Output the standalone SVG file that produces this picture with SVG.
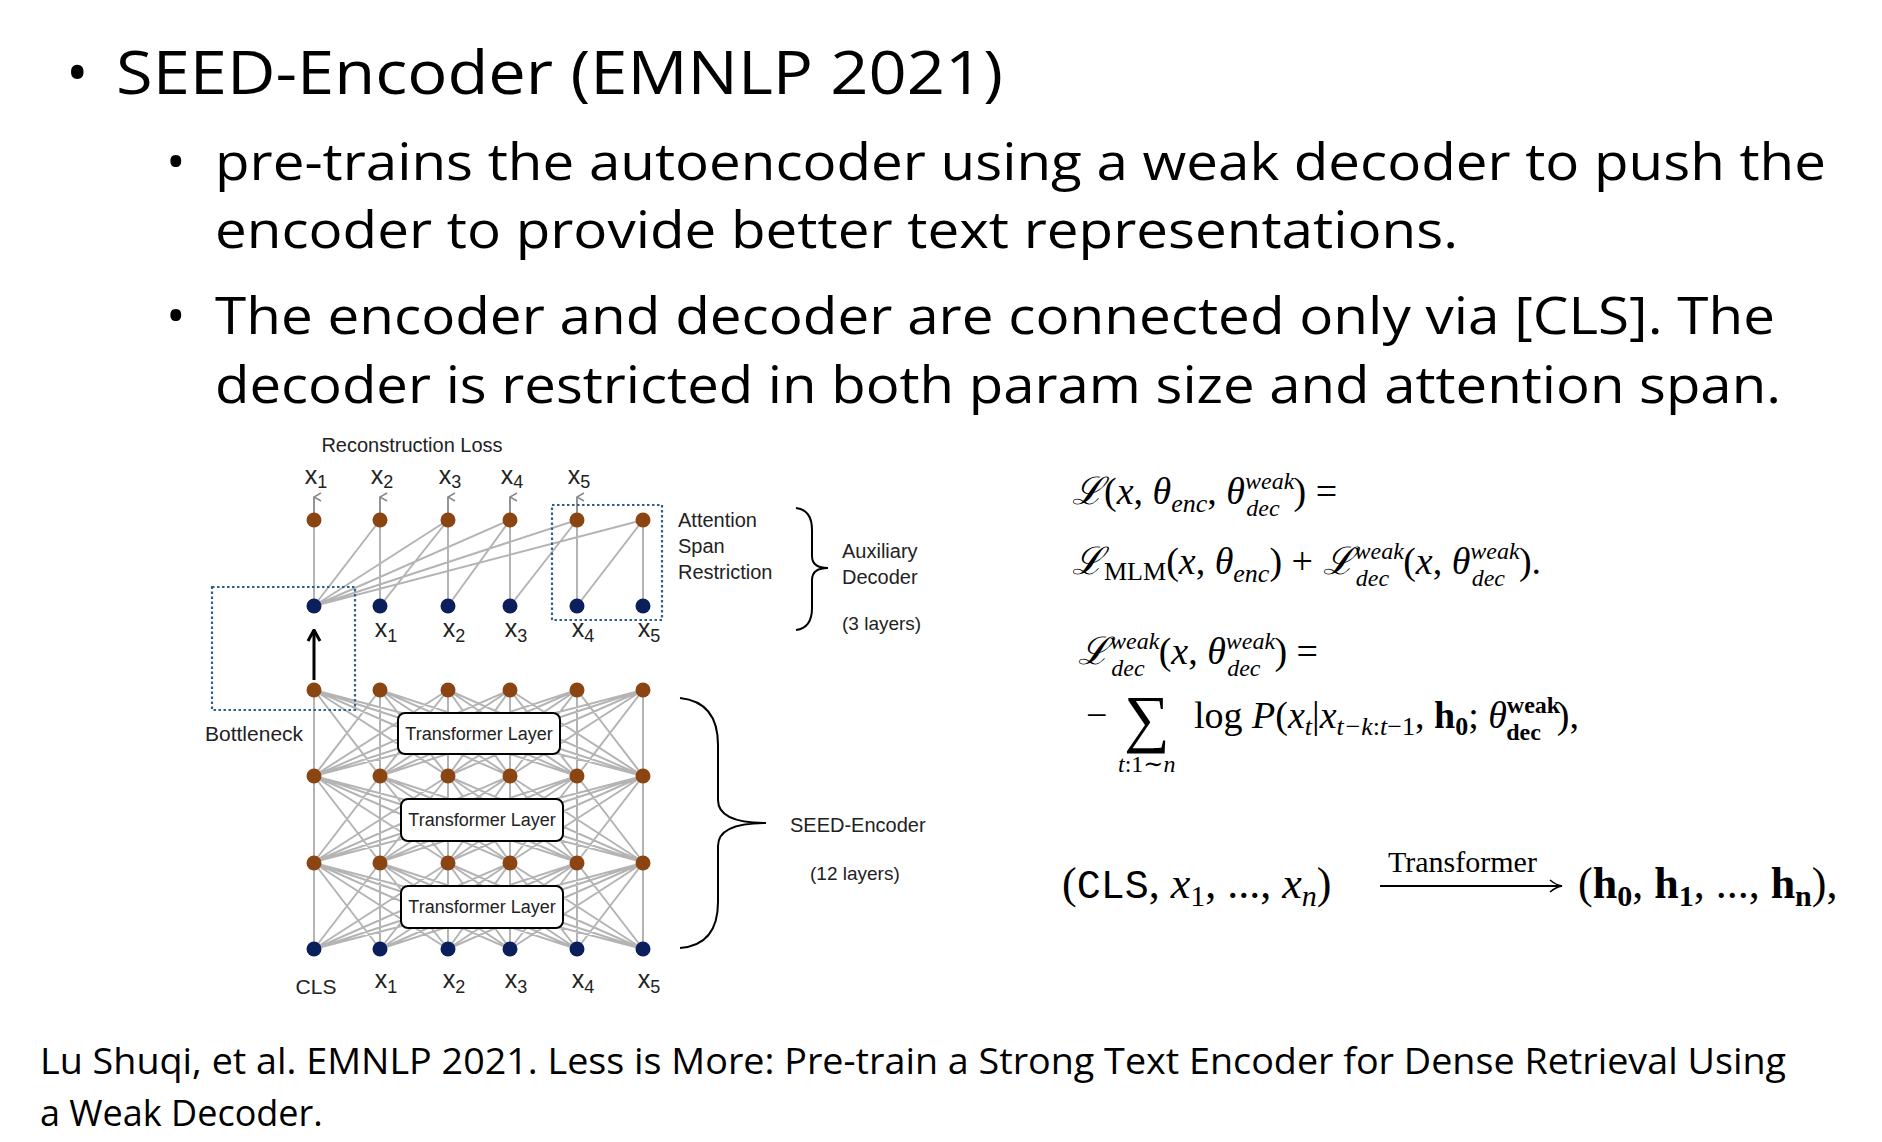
<svg xmlns="http://www.w3.org/2000/svg" width="1882" height="1142" viewBox="0 0 1882 1142">
<style>
.h{font-family:"Open Sans","Liberation Sans",sans-serif;fill:#000}
.d{font-family:"Liberation Sans",Arial,sans-serif;fill:#222}
.m{font-family:"Liberation Serif","DejaVu Serif",serif;fill:#000}
.i{font-style:italic}
.e{stroke:#b4b4b4;stroke-width:2;fill:none}
.o{fill:#8a4513}
.b{fill:#0b1f5c}
.dot{fill:none;stroke:#2f5f8a;stroke-width:2.2;stroke-dasharray:2.5 2.5}
.tl{fill:#fff;stroke:#000;stroke-width:2}
.br{fill:none;stroke:#000;stroke-width:2}
</style>
<defs>
<marker id="ga" markerWidth="10" markerHeight="10" refX="5" refY="1" orient="auto-start-reverse" markerUnits="userSpaceOnUse"><path d="M1,8 L5,1 L9,8" fill="none" stroke="#888" stroke-width="1.5"/></marker>
<marker id="ka" markerWidth="16" markerHeight="16" refX="8" refY="1" markerUnits="userSpaceOnUse"><path d="M2,12 L8,1 L14,12" fill="none" stroke="#000" stroke-width="3"/></marker>
<marker id="ma" markerWidth="16" markerHeight="14" refX="14" refY="7" orient="auto" markerUnits="userSpaceOnUse"><path d="M2,1 Q8,6 14,7 Q8,8 2,13" fill="none" stroke="#000" stroke-width="1.6"/></marker>
</defs>
<rect width="1882" height="1142" fill="#fff"/>

<g id="text-bullets">
<text class="h" x="66" y="94" font-size="60">•</text>
<text class="h" x="116" y="94" font-size="60" textLength="887" lengthAdjust="spacingAndGlyphs">SEED-Encoder (EMNLP 2021)</text>
<text class="h" x="166" y="180" font-size="52">•</text>
<text class="h" x="215" y="180" font-size="52" textLength="1611" lengthAdjust="spacingAndGlyphs">pre-trains the autoencoder using a weak decoder to push the</text>
<text class="h" x="215" y="248" font-size="52" textLength="1243" lengthAdjust="spacingAndGlyphs">encoder to provide better text representations.</text>
<text class="h" x="166" y="334" font-size="52">•</text>
<text class="h" x="215" y="334" font-size="52" textLength="1560" lengthAdjust="spacingAndGlyphs">The encoder and decoder are connected only via [CLS]. The</text>
<text class="h" x="215" y="403" font-size="52" textLength="1566" lengthAdjust="spacingAndGlyphs">decoder is restricted in both param size and attention span.</text>
<text class="h" x="40" y="1074" font-size="36" textLength="1746" lengthAdjust="spacingAndGlyphs">Lu Shuqi, et al. EMNLP 2021. Less is More: Pre-train a Strong Text Encoder for Dense Retrieval Using</text>
<text class="h" x="40" y="1126" font-size="36">a Weak Decoder.</text>
</g>

<g id="connectors">
<g class="e">
<path d="M314,949L314,863M314,949L380,863M314,949L448,863M314,949L510,863M314,949L577,863M314,949L643,863
M380,949L314,863M380,949L380,863M380,949L448,863M380,949L510,863M380,949L577,863M380,949L643,863
M448,949L314,863M448,949L380,863M448,949L448,863M448,949L510,863M448,949L577,863M448,949L643,863
M510,949L314,863M510,949L380,863M510,949L448,863M510,949L510,863M510,949L577,863M510,949L643,863
M577,949L314,863M577,949L380,863M577,949L448,863M577,949L510,863M577,949L577,863M577,949L643,863
M643,949L314,863M643,949L380,863M643,949L448,863M643,949L510,863M643,949L577,863M643,949L643,863"/>
<path transform="translate(0,-87)" d="M314,949L314,863M314,949L380,863M314,949L448,863M314,949L510,863M314,949L577,863M314,949L643,863
M380,949L314,863M380,949L380,863M380,949L448,863M380,949L510,863M380,949L577,863M380,949L643,863
M448,949L314,863M448,949L380,863M448,949L448,863M448,949L510,863M448,949L577,863M448,949L643,863
M510,949L314,863M510,949L380,863M510,949L448,863M510,949L510,863M510,949L577,863M510,949L643,863
M577,949L314,863M577,949L380,863M577,949L448,863M577,949L510,863M577,949L577,863M577,949L643,863
M643,949L314,863M643,949L380,863M643,949L448,863M643,949L510,863M643,949L577,863M643,949L643,863"/>
<path transform="translate(0,-173)" d="M314,949L314,863M314,949L380,863M314,949L448,863M314,949L510,863M314,949L577,863M314,949L643,863
M380,949L314,863M380,949L380,863M380,949L448,863M380,949L510,863M380,949L577,863M380,949L643,863
M448,949L314,863M448,949L380,863M448,949L448,863M448,949L510,863M448,949L577,863M448,949L643,863
M510,949L314,863M510,949L380,863M510,949L448,863M510,949L510,863M510,949L577,863M510,949L643,863
M577,949L314,863M577,949L380,863M577,949L448,863M577,949L510,863M577,949L577,863M577,949L643,863
M643,949L314,863M643,949L380,863M643,949L448,863M643,949L510,863M643,949L577,863M643,949L643,863"/>
<path d="M314,606L314,520M380,606L380,520M448,606L448,520M510,606L510,520M577,606L577,520M643,606L643,520
M314,606L380,520M314,606L448,520M314,606L510,520M314,606L577,520M314,606L643,520
M380,606L448,520M448,606L510,520M510,606L577,520M577,606L643,520"/>
</g>
<g stroke="#888" stroke-width="1.8">
<line x1="314" y1="520" x2="314" y2="497" marker-end="url(#ga)"/>
<line x1="380" y1="520" x2="380" y2="497" marker-end="url(#ga)"/>
<line x1="448" y1="520" x2="448" y2="497" marker-end="url(#ga)"/>
<line x1="510" y1="520" x2="510" y2="497" marker-end="url(#ga)"/>
<line x1="577" y1="520" x2="577" y2="497" marker-end="url(#ga)"/>
</g>
<line x1="314" y1="680" x2="314" y2="630" stroke="#000" stroke-width="3" marker-end="url(#ka)"/>
</g>

<g id="nodes-encoder">
<rect class="tl" x="398" y="713" width="162" height="41" rx="7"/>
<rect class="tl" x="401" y="799" width="162" height="42" rx="7"/>
<rect class="tl" x="401" y="886" width="162" height="42" rx="7"/>
<g class="d" font-size="18" text-anchor="middle">
<text x="479" y="740">Transformer Layer</text>
<text x="482" y="826">Transformer Layer</text>
<text x="482" y="913">Transformer Layer</text>
</g>
<g class="o">
<circle cx="314" cy="690" r="7.5"/><circle cx="380" cy="690" r="7.5"/><circle cx="448" cy="690" r="7.5"/><circle cx="510" cy="690" r="7.5"/><circle cx="577" cy="690" r="7.5"/><circle cx="643" cy="690" r="7.5"/>
<circle cx="314" cy="776" r="7.5"/><circle cx="380" cy="776" r="7.5"/><circle cx="448" cy="776" r="7.5"/><circle cx="510" cy="776" r="7.5"/><circle cx="577" cy="776" r="7.5"/><circle cx="643" cy="776" r="7.5"/>
<circle cx="314" cy="863" r="7.5"/><circle cx="380" cy="863" r="7.5"/><circle cx="448" cy="863" r="7.5"/><circle cx="510" cy="863" r="7.5"/><circle cx="577" cy="863" r="7.5"/><circle cx="643" cy="863" r="7.5"/>
<circle cx="314" cy="520" r="7.5"/><circle cx="380" cy="520" r="7.5"/><circle cx="448" cy="520" r="7.5"/><circle cx="510" cy="520" r="7.5"/><circle cx="577" cy="520" r="7.5"/><circle cx="643" cy="520" r="7.5"/>
</g>
<g class="b">
<circle cx="314" cy="949" r="7.5"/><circle cx="380" cy="949" r="7.5"/><circle cx="448" cy="949" r="7.5"/><circle cx="510" cy="949" r="7.5"/><circle cx="577" cy="949" r="7.5"/><circle cx="643" cy="949" r="7.5"/>
<circle cx="314" cy="606" r="7.5"/><circle cx="380" cy="606" r="7.5"/><circle cx="448" cy="606" r="7.5"/><circle cx="510" cy="606" r="7.5"/><circle cx="577" cy="606" r="7.5"/><circle cx="643" cy="606" r="7.5"/>
</g>
<rect class="dot" x="212" y="587" width="143" height="123"/>
<rect class="dot" x="552" y="505" width="110" height="115"/>
</g>

<g id="labels-diagram" class="d">
<text x="412" y="452" font-size="20" text-anchor="middle">Reconstruction Loss</text>
<g font-size="25" text-anchor="middle">
<text x="316" y="484">x<tspan font-size="18" dy="4">1</tspan></text>
<text x="382" y="484">x<tspan font-size="18" dy="4">2</tspan></text>
<text x="450" y="484">x<tspan font-size="18" dy="4">3</tspan></text>
<text x="512" y="484">x<tspan font-size="18" dy="4">4</tspan></text>
<text x="579" y="484">x<tspan font-size="18" dy="4">5</tspan></text>
<text x="386" y="637">x<tspan font-size="18" dy="5">1</tspan></text>
<text x="454" y="637">x<tspan font-size="18" dy="5">2</tspan></text>
<text x="516" y="637">x<tspan font-size="18" dy="5">3</tspan></text>
<text x="583" y="637">x<tspan font-size="18" dy="5">4</tspan></text>
<text x="649" y="637">x<tspan font-size="18" dy="5">5</tspan></text>
<text x="386" y="988">x<tspan font-size="18" dy="5">1</tspan></text>
<text x="454" y="988">x<tspan font-size="18" dy="5">2</tspan></text>
<text x="516" y="988">x<tspan font-size="18" dy="5">3</tspan></text>
<text x="583" y="988">x<tspan font-size="18" dy="5">4</tspan></text>
<text x="649" y="988">x<tspan font-size="18" dy="5">5</tspan></text>
</g>
<text x="316" y="994" font-size="21" text-anchor="middle">CLS</text>
<text x="205" y="741" font-size="21">Bottleneck</text>
<text x="678" y="527" font-size="20">Attention</text>
<text x="678" y="553" font-size="20">Span</text>
<text x="678" y="579" font-size="20">Restriction</text>
<text x="842" y="558" font-size="20">Auxiliary</text>
<text x="842" y="584" font-size="20">Decoder</text>
<text x="842" y="630" font-size="19">(3 layers)</text>
<text x="790" y="832" font-size="20">SEED-Encoder</text>
<text x="810" y="880" font-size="19">(12 layers)</text>
<path class="br" d="M796,508 Q812,510 812,530 L812,556 Q812,568 828,568 Q812,568 812,580 L812,608 Q812,628 796,630"/>
<path class="br" d="M680,698 Q718,702 718,745 L718,800 Q718,823 766,823 Q718,823 718,846 L718,902 Q718,945 680,948"/>
</g>

<g id="equations" class="m">
<text x="1072" y="504" font-size="38"><tspan font-family="DejaVu Serif" font-style="italic">ℒ</tspan>(<tspan class="i">x</tspan>, <tspan class="i">θ</tspan><tspan class="i" font-size="26" dy="8">enc</tspan><tspan dy="-8">, </tspan><tspan class="i">θ</tspan><tspan class="i" font-size="24" dy="-15">weak</tspan><tspan class="i" font-size="24" dx="-48" dy="27">dec</tspan><tspan dx="14" dy="-12">) =</tspan></text>
<text x="1072" y="574" font-size="38"><tspan font-family="DejaVu Serif" font-style="italic">ℒ</tspan><tspan font-size="26" dy="6">MLM</tspan><tspan dy="-6">(</tspan><tspan class="i">x</tspan>, <tspan class="i">θ</tspan><tspan class="i" font-size="26" dy="8">enc</tspan><tspan dy="-8">) + </tspan><tspan font-family="DejaVu Serif" font-style="italic">ℒ</tspan><tspan class="i" font-size="24" dy="-15">weak</tspan><tspan class="i" font-size="24" dx="-48" dy="27">dec</tspan><tspan dx="14" dy="-12">(</tspan><tspan class="i">x</tspan>, <tspan class="i">θ</tspan><tspan class="i" font-size="24" dy="-15">weak</tspan><tspan class="i" font-size="24" dx="-48" dy="27">dec</tspan><tspan dx="14" dy="-12">).</tspan></text>
<text x="1078" y="664" font-size="38"><tspan font-family="DejaVu Serif" font-style="italic">ℒ</tspan><tspan class="i" font-size="24" dy="-15">weak</tspan><tspan class="i" font-size="24" dx="-48" dy="27">dec</tspan><tspan dx="14" dy="-12">(</tspan><tspan class="i">x</tspan>, <tspan class="i">θ</tspan><tspan class="i" font-size="24" dy="-15">weak</tspan><tspan class="i" font-size="24" dx="-48" dy="27">dec</tspan><tspan dx="14" dy="-12">) =</tspan></text>
<text x="1086" y="728" font-size="38">−</text>
<text x="1124" y="740" font-size="64">∑</text>
<text x="1118" y="772" font-size="24" class="i">t<tspan font-style="normal">:1∼</tspan>n</text>
<text x="1194" y="728" font-size="38">log <tspan class="i">P</tspan>(<tspan class="i">x</tspan><tspan class="i" font-size="26" dy="7">t</tspan><tspan dy="-7">|</tspan><tspan class="i">x</tspan><tspan class="i" font-size="26" dy="7">t−k</tspan><tspan font-size="26">:</tspan><tspan class="i" font-size="26">t</tspan><tspan font-size="26">−1</tspan><tspan dy="-7">, </tspan><tspan font-weight="bold">h</tspan><tspan font-weight="bold" font-size="26" dy="7">0</tspan><tspan dy="-7">; </tspan><tspan class="i">θ</tspan><tspan font-weight="bold" font-size="24" dy="-15">weak</tspan><tspan font-weight="bold" font-size="24" dx="-54" dy="27">dec</tspan><tspan dx="16" dy="-12">),</tspan></text>
<text x="1062" y="898" font-size="44">(<tspan font-family="Liberation Mono,monospace" font-size="40">CLS</tspan>, <tspan class="i">x</tspan><tspan font-size="30" dy="8">1</tspan><tspan dy="-8">, ..., </tspan><tspan class="i">x</tspan><tspan class="i" font-size="30" dy="8">n</tspan><tspan dy="-8">)</tspan></text>
<text x="1388" y="872" font-size="30">Transformer</text>
<line x1="1380" y1="886" x2="1562" y2="886" stroke="#000" stroke-width="1.8" marker-end="url(#ma)"/>
<text x="1578" y="898" font-size="44">(<tspan font-weight="bold">h</tspan><tspan font-weight="bold" font-size="30" dy="8">0</tspan><tspan dy="-8">, </tspan><tspan font-weight="bold">h</tspan><tspan font-weight="bold" font-size="30" dy="8">1</tspan><tspan dy="-8">, ..., </tspan><tspan font-weight="bold">h</tspan><tspan font-weight="bold" font-size="30" dy="8">n</tspan><tspan dy="-8">),</tspan></text>
</g>
</svg>
